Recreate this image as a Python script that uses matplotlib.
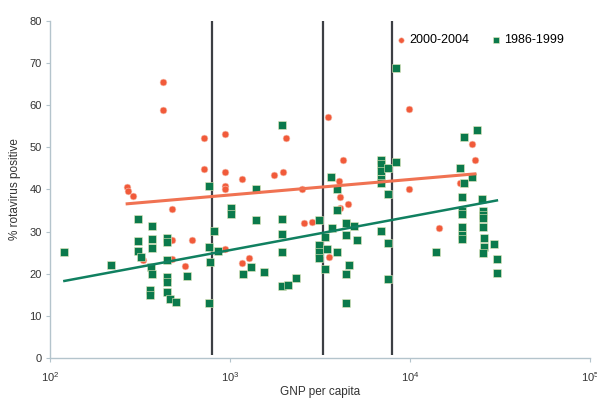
import numpy as np
import matplotlib.pyplot as plt
from matplotlib.ticker import NullLocator

plt.rcParams['font.family'] = ['Liberation Sans', 'DejaVu Sans']

# 2000-2004 studies: GNP per capita (US$) and % rotavirus positive
gnp_new = [424, 424, 717, 717, 268, 271, 289, 476, 476, 615, 329, 476, 562,
           938, 2047, 3504, 4244, 938, 1166, 1756, 1970, 938, 938, 2512, 4033,
           4084, 4524, 4084, 2577, 2855, 938, 1166, 1275, 3548, 9872, 9872,
           22100, 22960, 18960, 14490]
rota_new = [65.6, 58.9, 52.1, 44.9, 40.7, 39.7, 38.5, 35.4, 28.1, 28.1, 23.3, 23.6, 21.9,
            53.2, 52.1, 57.3, 47.1, 44.2, 42.6, 43.5, 44.2, 40.9, 40.2, 40.0, 42.1,
            38.3, 36.6, 35.7, 32.1, 32.4, 25.9, 22.6, 23.8, 24.0, 59.2, 40.2,
            50.9, 47.1, 41.6, 30.9]

# 1986-1999 studies
gnp_old = [120, 218, 308, 308, 308, 320, 369, 369, 369, 364, 369, 359, 359,
           447, 447, 447, 447, 447, 447, 464, 501, 577, 764, 764, 774, 764,
           815, 858, 1013, 1013, 1386, 1386, 1945, 1945, 1945, 1945, 1308, 1181,
           1545, 1945, 2100, 2327, 3122, 3122, 3122, 3122, 3372, 3459, 3687, 3372,
           3640, 3930, 3930, 3930, 4410, 4410, 4886, 5076, 4582, 4410, 4410,
           6902, 6902, 6902, 7548, 8360, 6902, 6902, 7548, 8360, 6902, 7548, 7548,
           13950, 19950, 23560, 18960, 22100, 19950, 19450, 25120, 19450, 19450,
           19450, 19450, 19450, 25440, 25440, 25440, 25440, 25770, 25770, 25440,
           29290, 30430, 30430]
rota_old = [25.2, 22.1, 33.1, 27.8, 25.5, 24.0, 31.4, 28.3, 26.2, 21.7, 20.0, 16.2, 15.0,
            28.6, 27.6, 23.3, 19.3, 18.1, 15.7, 14.1, 13.4, 19.5, 40.9, 26.4, 22.9, 13.1,
            30.2, 25.5, 35.7, 34.3, 32.8, 40.0, 55.4, 33.1, 29.5, 25.2, 21.7, 20.0,
            20.5, 17.2, 17.4, 19.1, 32.8, 26.9, 25.2, 23.8, 28.8, 25.9, 30.9, 21.2,
            43.0, 40.2, 35.2, 25.2, 32.1, 29.3, 31.4, 28.1, 22.1, 20.0, 13.1,
            47.1, 46.1, 44.5, 45.2, 46.4, 42.6, 41.6, 39.0, 68.7, 30.2, 27.4, 18.8,
            25.2, 52.5, 54.2, 45.2, 43.0, 41.6, 38.3, 37.8, 35.0, 34.3,
            31.2, 29.3, 28.3, 35.0, 34.0, 33.3, 31.2, 28.6, 26.4, 25.0,
            27.1, 23.6, 20.2]

# trend lines (end points)
trend_new_x = [268, 22960]
trend_new_y = [36.6, 43.7]
trend_old_x = [120, 30430]
trend_old_y = [18.3, 37.4]

# income group boundaries
cutoffs = [790, 3270, 7900]

orange = '#f15a3a'
green = '#0b7a4c'

fig = plt.figure(figsize=(5.97, 4.01), dpi=100)
ax = fig.add_axes([0.084, 0.107, 0.904, 0.841])

ax.vlines(cutoffs, 0.8, 80, colors='#3c3f44', linewidth=1.6, zorder=1)

ax.scatter(gnp_new, rota_new, s=24, marker='o', color=orange, edgecolors='#f8c4b4',
           linewidths=0.4, zorder=2, label='2000-2004')
ax.scatter(gnp_old, rota_old, s=28, marker='s', color=green, edgecolors='#ece9bf',
           linewidths=0.4, zorder=3, label='1986-1999')

ax.plot(trend_new_x, trend_new_y, color='#f07252', linewidth=2.2, zorder=4)
ax.plot(trend_old_x, trend_old_y, color='#108060', linewidth=1.8, zorder=4)

ax.set_xscale('log')
ax.set_xlim(100, 100000)
ax.set_ylim(0, 80)
ax.set_yticks(range(0, 81, 10))
ax.xaxis.set_minor_locator(NullLocator())

for s in ['top', 'right']:
    ax.spines[s].set_visible(False)
for s in ['left', 'bottom']:
    ax.spines[s].set_color('#b4c4cc')
    ax.spines[s].set_linewidth(1.0)

ax.tick_params(axis='y', length=3, color='#b4c4cc', labelsize=8, labelcolor='#333333', pad=3)
ax.tick_params(axis='x', length=3, color='#b4c4cc', labelsize=8, labelcolor='#333333', pad=6)

ax.set_xlabel('GNP per capita', fontsize=8.5, color='#333333', labelpad=1)
ax.set_ylabel('% rotavirus positive', fontsize=8.5, color='#333333', labelpad=6)

ax.legend(loc='upper right', bbox_to_anchor=(0.962, 0.975), ncol=2, frameon=False,
          fontsize=9, handlelength=0.8, handletextpad=0.3, columnspacing=1.7,
          markerscale=0.8, borderaxespad=0)

fig.savefig('out.png', dpi=100, facecolor='white')
